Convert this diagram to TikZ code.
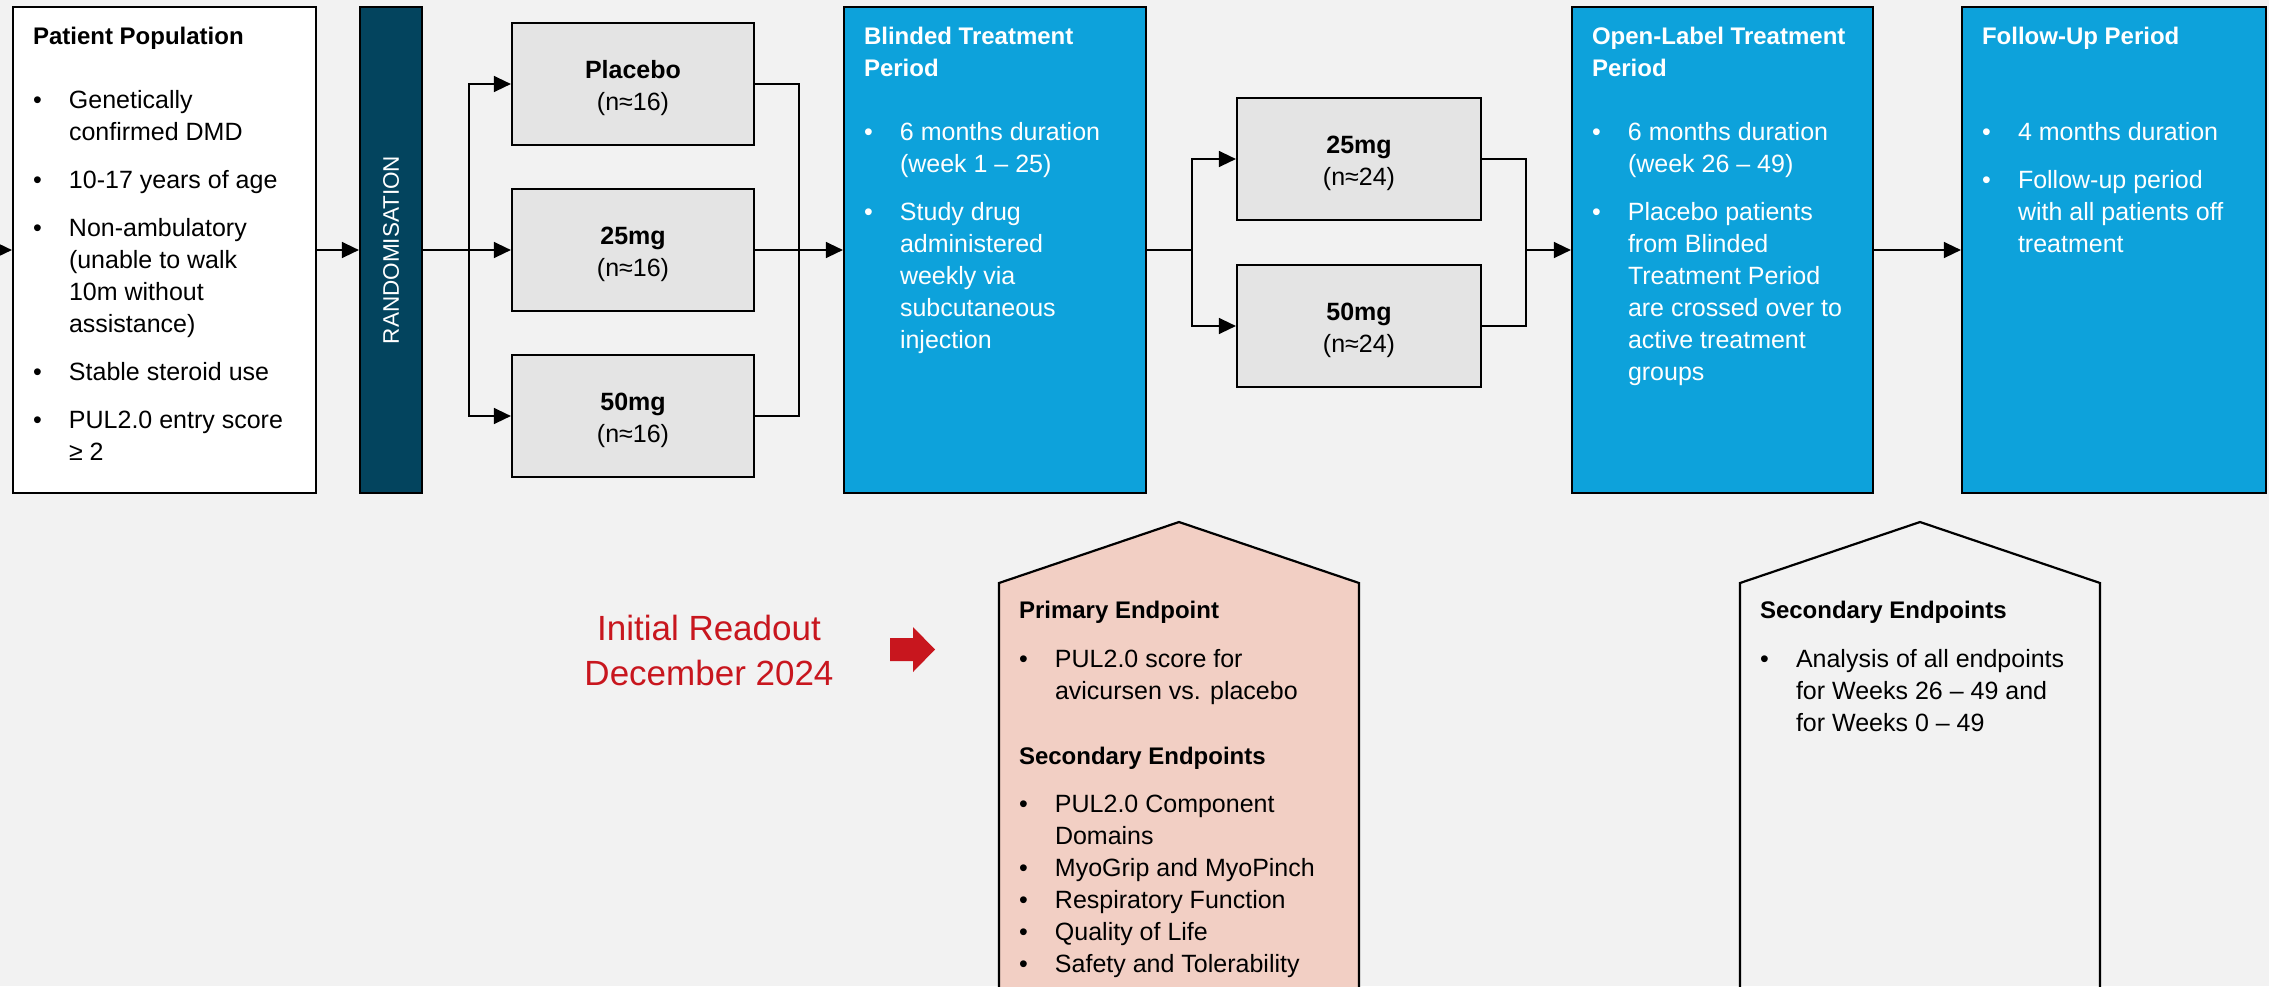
\documentclass[tikz,border=0pt]{standalone}
\usepackage{fontspec}
\setmainfont{Liberation Sans}
\usetikzlibrary{arrows.meta,calc}
\definecolor{bgcol}{HTML}{F2F2F2}
\definecolor{randcol}{HTML}{03445E}
\definecolor{bluebox}{HTML}{0DA2DB}
\definecolor{greybox}{HTML}{E4E4E4}
\definecolor{pinkbox}{HTML}{F2CFC4}
\definecolor{readred}{HTML}{C8161E}
\newcommand{\bitem}{\makebox[18pt][l]{•}}
\newcommand{\bcont}{\hspace*{18pt}}
\newcommand{\fstrut}{\rule{0pt}{12pt}}
\newcommand{\astrut}{\rule{0pt}{12.6pt}}
\newcommand{\ttl}[1]{\textbf{\fontsize{12}{16}\selectfont #1}}
\tikzset{
  frame/.style={draw=black, line width=1.1pt},
  phase/.style={frame, fill=bluebox, minimum height=243pt, minimum width=151pt, inner sep=0pt},
  popbox/.style={frame, fill=white, minimum height=243pt, minimum width=151.5pt, inner sep=0pt},
  armbox/.style={frame, fill=greybox, minimum height=61pt, minimum width=121pt, inner sep=0pt,
     align=center, font=\fontsize{12.5}{16}\selectfont},
  bodytext/.style={anchor=north west, inner sep=0pt, outer sep=0pt, align=left,
     font=\fontsize{12.5}{16}\selectfont},
  conn/.style={line width=0.7pt, -{Triangle[length=8.5pt,width=8pt]}},
  plain/.style={line width=0.7pt},
  pent/.style={line width=1.1pt, draw=black}
}
\begin{document}
\begin{tikzpicture}[x=0.5pt,y=-0.5pt]
\useasboundingbox (0,0) rectangle (2269,986);
\fill[bgcol] (0,0) rectangle (2269,986);

% top row boxes
\node[popbox] (patient) at (164.5,250) {};
\node[frame, fill=randcol, minimum height=243pt, minimum width=31pt, inner sep=0pt] (rand) at (391,250) {};
\node[rotate=90, text=white, font=\fontsize{11.25}{14}\selectfont] (randtext) at (391,250) {RANDOMISATION};
\node[armbox] (placebo) at (633,84) {\astrut\textbf{Placebo}\\(n≈16)};
\node[armbox] (arm25) at (633,250) {\astrut\textbf{25mg}\\(n≈16)};
\node[armbox] (arm50) at (633,416) {\astrut\textbf{50mg}\\(n≈16)};
\node[phase] (blinded) at (995,250) {};
\node[armbox, minimum width=122pt] (ol25) at (1359,159) {\astrut\textbf{25mg}\\(n≈24)};
\node[armbox, minimum width=122pt] (ol50) at (1359,326) {\astrut\textbf{50mg}\\(n≈24)};
\node[phase, minimum width=150.5pt] (open) at (1722.5,250) {};
\node[phase, minimum width=152pt] (follow) at (2114,250) {};

% texts inside boxes
\node[bodytext] (ptext) at (33,20) {\fstrut\ttl{Patient Population}\\[16pt]
\bitem Genetically\\
\bcont confirmed DMD\\[8pt]
\bitem 10-17 years of age\\[8pt]
\bitem Non-ambulatory\\
\bcont (unable to walk\\
\bcont 10m without\\
\bcont assistance)\\[8pt]
\bitem Stable steroid use\\[8pt]
\bitem PUL2.0 entry score\\
\bcont ≥ 2};

\node[bodytext, text=white] (btext) at (864,20) {\fstrut\ttl{Blinded Treatment}\\
\ttl{Period}\\[16pt]
\bitem 6 months duration\\
\bcont (week 1 – 25)\\[8pt]
\bitem Study drug\\
\bcont administered\\
\bcont weekly via\\
\bcont subcutaneous\\
\bcont injection};

\node[bodytext, text=white] (otext) at (1592,20) {\fstrut\ttl{Open-Label Treatment}\\
\ttl{Period}\\[16pt]
\bitem 6 months duration\\
\bcont (week 26 – 49)\\[8pt]
\bitem Placebo patients\\
\bcont from Blinded\\
\bcont Treatment Period\\
\bcont are crossed over to\\
\bcont active treatment\\
\bcont groups};

\node[bodytext, text=white] (ftext) at (1982,20) {\fstrut\ttl{Follow-Up Period}\\[32pt]
\bitem 4 months duration\\[8pt]
\bitem Follow-up period\\
\bcont with all patients off\\
\bcont treatment};

% connectors
\coordinate (src) at (0,250);
\coordinate (split1) at (469,250);
\coordinate (join1) at (799,250);
\coordinate (split2) at (1192,250);
\coordinate (join2) at (1526,250);
\draw[conn] (src) -- (patient.west);
\draw[conn] (patient.east) -- (rand.west);
\draw[conn] (rand.east) -- (arm25.west);
\draw[conn] (split1) |- (placebo.west);
\draw[conn] (split1) |- (arm50.west);
\draw[plain] (placebo.east) -| (join1);
\draw[plain] (arm50.east) -| (join1);
\draw[conn] (arm25.east) -- (blinded.west);
\draw[plain] (blinded.east) -- (split2);
\draw[conn] (split2) |- (ol25.west);
\draw[conn] (split2) |- (ol50.west);
\draw[plain] (ol25.east) -| (join2);
\draw[plain] (ol50.east) -| (join2);
\draw[conn] (join2) -- (open.west);
\draw[conn] (open.east) -- (follow.west);

% bottom section
\node[anchor=north, inner sep=0pt, align=center, text=readred,
      font=\fontsize{17.5}{22.5}\selectfont] (readout) at (709,612)
      {\rule{0pt}{14pt}Initial Readout\\December 2024};
\fill[readred] (890,638) -- (913,638) -- (913,627) -- (935,649.5) -- (913,672) -- (913,661) -- (890,661) -- cycle;

\draw[pent, fill=pinkbox] (999,990) -- (999,583) -- (1179,522) -- (1359,583) -- (1359,990);
\draw[pent] (1740,990) -- (1740,583) -- (1920,522) -- (2100,583) -- (2100,990);

\node[bodytext] (primtext) at (1019,594) {\fstrut\ttl{Primary Endpoint}\\[8.5pt]
\bitem PUL2.0 score for\\
\bcont avicursen vs. placebo\\[16.5pt]
\ttl{Secondary Endpoints}\\[8pt]
\bitem PUL2.0 Component\\
\bcont Domains\\
\bitem MyoGrip and MyoPinch\\
\bitem Respiratory Function\\
\bitem Quality of Life\\
\bitem Safety and Tolerability};

\node[bodytext] (sectext) at (1760,594) {\fstrut\ttl{Secondary Endpoints}\\[8.5pt]
\bitem Analysis of all endpoints\\
\bcont for Weeks 26 – 49 and\\
\bcont for Weeks 0 – 49};
\end{tikzpicture}
\end{document}
